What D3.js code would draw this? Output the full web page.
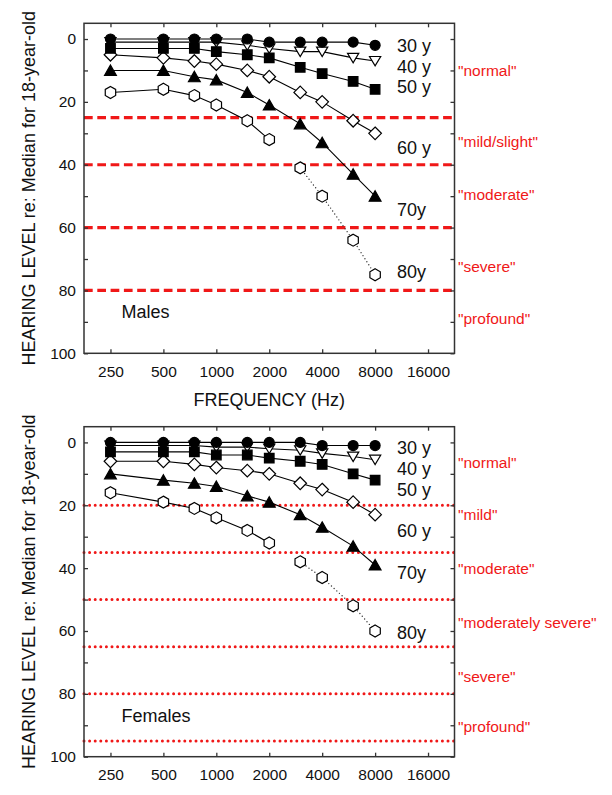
<!DOCTYPE html>
<html>
<head>
<meta charset="utf-8">
<script src="https://cdn.jsdelivr.net/npm/d3@7"></script>
<style>
  body { margin: 0; background: #fff; }
  svg { display: block; }
</style>
</head>
<body>
<svg id="chart"></svg>
<script>
// ---------------- DATA ----------------
const frequencies = [250, 500, 750, 1000, 1500, 2000, 3000, 4000, 6000, 8000];
const xTickValues = [250, 500, 1000, 2000, 4000, 8000, 16000];
const yTickValues = [0, 10, 20, 30, 40, 50, 60, 70, 80, 90, 100];
const yLabelValues = [0, 20, 40, 60, 80, 100];
const ageLabels = ["30 y", "40 y", "50 y", "60 y", "70y", "80y"];

// Males (dB re: median for 18-year-olds)
const male30 = [0, 0, 0, 0, 0, 1, 1, 1, 1, 2];
const male40 = [1, 1, 1, 1, 2, 3, 4, 4, 6, 7];
const male50 = [3, 3, 3, 4, 5, 6, 9, 11, 13.5, 16];
const male60 = [5, 6, 7, 8, 10, 12, 17, 20, 26, 30];
const male70 = [10, 10, 12, 13, 17, 21, 27, 33, 43, 50];
const male80 = [17, 16, 18, 21, 26, 32, 41, 50, 64, 75];

// Females
const female30 = [0, 0, 0, 0, 0, 0, 0, 1, 1, 1];
const female40 = [1, 1, 1, 1.5, 1.5, 2, 2.5, 3.5, 4.5, 5.5];
const female50 = [3, 3, 3, 4, 4, 5, 6, 7, 10, 12];
const female60 = [6, 6, 7, 8, 9, 10, 13, 15, 19, 23];
const female70 = [10, 12, 13, 14, 17, 19, 23, 27, 33, 39];
const female80 = [16, 19, 21, 24, 28, 32, 38, 43, 52, 60];

// Hearing-loss category boundaries and names
const maleThresholds = [25, 40, 60, 80];
const femaleThresholds = [20, 35, 50, 65, 80, 95];
const maleCategories = ['"normal"', '"mild/slight"', '"moderate"', '"severe"', '"profound"'];
const maleCategoryLevels = [10.2, 32.5, 49.6, 72.4, 88.8];
const femaleCategories = ['"normal"', '"mild"', '"moderate"', '"moderately severe"', '"severe"', '"profound"'];
const femaleCategoryLevels = [6.3, 23.1, 40.1, 57.4, 74.4, 90.3];
const maleAgeLabelLevels = [2.2, 8.7, 15.1, 34.6, 54.2, 74.1];
const femaleAgeLabelLevels = [1.8, 8.4, 15, 28, 41.3, 60.7];

// ---------------- DRAWING ----------------
const W = 612, H = 795;
const FONT = "'Liberation Sans', Arial, Helvetica, sans-serif";
const RED = "#f01818";
const svg = d3.select("#chart").attr("width", W).attr("height", H)
  .style("font-family", FONT);
svg.append("rect").attr("width", W).attr("height", H).attr("fill", "#fff");

const shapes = {
  circle:  { d: d3.symbol(d3.symbolCircle, Math.PI * 25)(), fill: "#000" },
  triDown: { d: "M-5.6,-4.5L5.6,-4.5L0,4.9Z", fill: "#fff" },
  square:  { d: "M-4.8,-4.8H4.8V4.8H-4.8Z", fill: "#000" },
  diamond: { d: "M0,-6.3L6.3,0L0,6.3L-6.3,0Z", fill: "#fff" },
  triUp:   { d: "M0,-5.4L5.9,5L-5.9,5Z", fill: "#000" },
  hexagon: { d: "M0,-6L5.2,-3L5.2,3L0,6L-5.2,3L-5.2,-3Z", fill: "#fff" }
};

function drawPanel(cfg) {
  const left = 84, right = 454.5, top = cfg.top, bottom = cfg.top + 330;
  const x = d3.scaleLog().domain([250 / Math.SQRT2, 16000 * Math.SQRT2]).range([left, right]);
  const y = d3.scaleLinear().domain([-5, 100]).range([top, bottom]);
  const g = svg.append("g");

  // category boundary lines
  g.selectAll(".thr").data(cfg.thresholds).join("line")
    .attr("x1", left).attr("x2", right)
    .attr("y1", d => y(d)).attr("y2", d => y(d))
    .attr("stroke", RED)
    .attr("stroke-width", cfg.dotted ? 3 : 3.2)
    .attr("stroke-linecap", cfg.dotted ? "round" : "butt")
    .attr("stroke-dasharray", cfg.dotted ? "0,5.6" : "8.7,4.6");

  // axes with inward ticks
  const axB = g.append("g").attr("transform", `translate(0,${bottom})`)
    .call(d3.axisBottom(x).tickValues(xTickValues).tickSize(-4).tickPadding(12.4)
      .tickFormat(d3.format("d")));
  const axT = g.append("g").attr("transform", `translate(0,${top})`)
    .call(d3.axisTop(x).tickValues(xTickValues).tickSize(-4).tickFormat(""));
  const axL = g.append("g").attr("transform", `translate(${left},0)`)
    .call(d3.axisLeft(y).tickValues(yTickValues).tickSize(-4).tickPadding(8)
      .tickFormat(d => yLabelValues.includes(d) ? d : ""));
  const axR = g.append("g").attr("transform", `translate(${right},0)`)
    .call(d3.axisRight(y).tickValues(yTickValues).tickSize(-4).tickFormat(""));
  [axB, axT, axL, axR].forEach(a => {
    a.select(".domain").remove();
    a.selectAll("line").attr("stroke", "#333").attr("stroke-width", 1.3);
    a.selectAll("text").attr("fill", "#111").style("font-size", "15.5px").style("font-family", FONT);
  });
  g.append("rect").attr("x", left).attr("y", top)
    .attr("width", right - left).attr("height", bottom - top)
    .attr("fill", "none").attr("stroke", "#333").attr("stroke-width", 1.5);

  // series
  const line = d3.line().x(d => x(d.f)).y(d => y(d.v));
  const toPts = arr => arr.map((v, i) => ({ f: frequencies[i], v }));
  cfg.series.forEach(s => {
    const pts = toPts(s.values);
    if (s.split) {
      g.append("path").attr("d", line(pts.slice(0, 6)))
        .attr("fill", "none").attr("stroke", "#000").attr("stroke-width", 1.1);
      g.append("path").attr("d", line(pts.slice(6)))
        .attr("fill", "none").attr("stroke", "#333").attr("stroke-width", 1.4)
        .attr("stroke-linecap", "round").attr("stroke-dasharray", "0,3.6");
    } else {
      g.append("path").attr("d", line(pts))
        .attr("fill", "none").attr("stroke", "#000").attr("stroke-width", 1.1);
    }
  });
  cfg.series.forEach(s => {
    const sh = shapes[s.shape];
    g.selectAll(null).data(toPts(s.values)).join("path")
      .attr("d", sh.d)
      .attr("transform", d => `translate(${x(d.f)},${y(d.v)})`)
      .attr("fill", sh.fill).attr("stroke", "#000").attr("stroke-width", 1.2);
  });

  // age labels
  g.selectAll(".age").data(ageLabels).join("text")
    .attr("x", x(8000) + 22).attr("y", (d, i) => y(cfg.ageLevels[i]))
    .attr("dy", "0.35em").style("font-size", "18px").attr("fill", "#111")
    .text(d => d);

  // category labels
  g.selectAll(".cat").data(cfg.categories).join("text")
    .attr("x", right + 3.5).attr("y", (d, i) => y(cfg.categoryLevels[i]))
    .attr("dy", "0.35em").style("font-size", "15.5px").attr("fill", RED)
    .text(d => d);

  // panel name
  g.append("text").attr("x", x(250) + 11).attr("y", y(86.8)).attr("dy", "0.35em")
    .style("font-size", "18px").attr("fill", "#111").text(cfg.name);

  // y-axis title
  g.append("text")
    .attr("transform", `translate(35,${(top + bottom) / 2}) rotate(-90)`)
    .attr("text-anchor", "middle").style("font-size", "18px").attr("fill", "#111")
    .text("HEARING LEVEL re: Median for 18-year-old");

  if (cfg.xTitle) {
    g.append("text").attr("x", (left + right) / 2).attr("y", bottom + 52.5)
      .attr("text-anchor", "middle").style("font-size", "18px").attr("fill", "#111")
      .text("FREQUENCY (Hz)");
  }
}

const seriesOf = (v30, v40, v50, v60, v70, v80) => [
  { values: v40, shape: "triDown" },
  { values: v80, shape: "hexagon", split: true },
  { values: v70, shape: "triUp" },
  { values: v60, shape: "diamond" },
  { values: v50, shape: "square" },
  { values: v30, shape: "circle" }
];

drawPanel({
  top: 23.3, name: "Males", xTitle: true, dotted: false,
  thresholds: maleThresholds, categories: maleCategories, categoryLevels: maleCategoryLevels,
  ageLevels: maleAgeLabelLevels,
  series: seriesOf(male30, male40, male50, male60, male70, male80)
});
drawPanel({
  top: 426.7, name: "Females", xTitle: false, dotted: true,
  thresholds: femaleThresholds, categories: femaleCategories, categoryLevels: femaleCategoryLevels,
  ageLevels: femaleAgeLabelLevels,
  series: seriesOf(female30, female40, female50, female60, female70, female80)
});
</script>
</body>
</html>
